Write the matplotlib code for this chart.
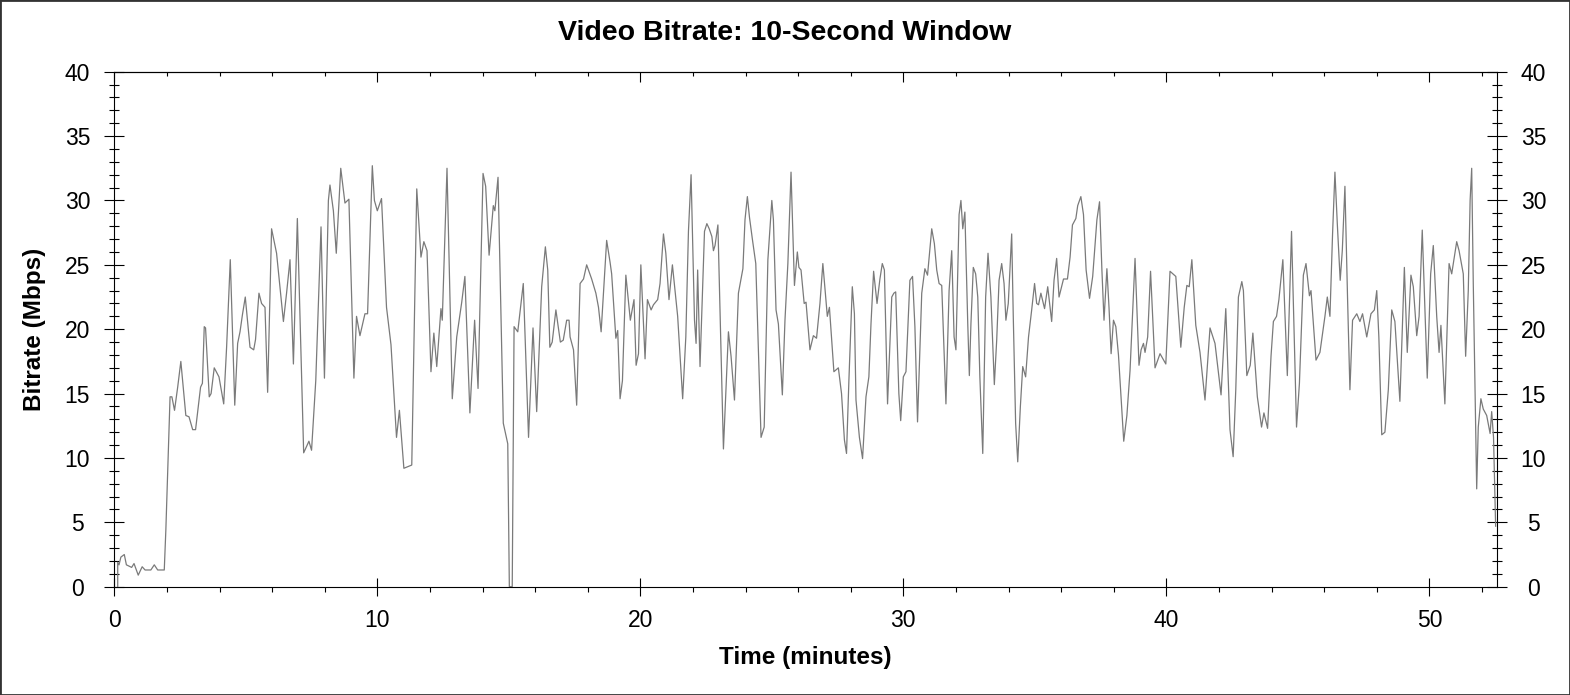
import matplotlib
matplotlib.use('Agg')
import matplotlib.pyplot as plt
from matplotlib.ticker import MultipleLocator
from matplotlib.patches import Rectangle

plt.rcParams['font.family'] = ['Liberation Sans', 'DejaVu Sans']

# 읽어낸 값: 시간(분), 비트레이트(Mbps)
time_min = [
    0.13, 0.13, 0.18, 0.25, 0.38, 0.46, 0.66, 0.75, 0.91, 1.06, 1.17, 1.39, 1.52, 1.65, 1.90, 1.96,
    2.12, 2.19, 2.29, 2.41, 2.53, 2.72, 2.84, 2.98, 3.09, 3.28, 3.35, 3.42, 3.47, 3.61, 3.68, 3.80,
    3.98, 4.16, 4.27, 4.41, 4.58, 4.69, 4.78, 4.87, 4.98, 5.16, 5.30, 5.37, 5.50, 5.60, 5.73, 5.83,
    5.98, 6.17, 6.43, 6.55, 6.68, 6.81, 6.96, 7.20, 7.40, 7.50, 7.66, 7.86, 7.99, 8.14, 8.20, 8.33,
    8.44, 8.61, 8.77, 8.92, 9.11, 9.21, 9.34, 9.53, 9.63, 9.81, 9.89, 10.0, 10.16, 10.35, 10.52,
    10.73, 10.84, 11.01, 11.31, 11.50, 11.66, 11.77, 11.89, 12.04, 12.15, 12.26, 12.42, 12.47, 12.65,
    12.85, 13.02, 13.21, 13.33, 13.52, 13.70, 13.83, 14.02, 14.12, 14.25, 14.41, 14.47, 14.59, 14.79,
    14.96, 15.02, 15.13, 15.20, 15.34, 15.55, 15.75, 15.92, 16.06, 16.25, 16.39, 16.48, 16.56, 16.65,
    16.79, 16.96, 17.07, 17.20, 17.29, 17.33, 17.46, 17.58, 17.71, 17.84, 17.96, 18.15, 18.31, 18.41,
    18.51, 18.72, 18.85, 18.91, 19.07, 19.14, 19.23, 19.32, 19.45, 19.62, 19.76, 19.84, 19.93, 20.02,
    20.18, 20.27, 20.41, 20.50, 20.66, 20.75, 20.88, 20.97, 21.09, 21.22, 21.32, 21.42, 21.61, 21.73,
    21.83, 21.93, 22.06, 22.12, 22.18, 22.27, 22.44, 22.53, 22.62, 22.72, 22.78, 22.84, 22.95, 23.16,
    23.35, 23.45, 23.58, 23.73, 23.90, 23.98, 24.07, 24.15, 24.26, 24.39, 24.59, 24.71, 24.85, 25.00,
    25.06, 25.16, 25.25, 25.40, 25.50, 25.61, 25.73, 25.86, 25.97, 26.03, 26.11, 26.23, 26.30, 26.45,
    26.58, 26.70, 26.83, 26.94, 27.11, 27.19, 27.36, 27.53, 27.65, 27.76, 27.84, 27.93, 28.06, 28.14,
    28.20, 28.33, 28.45, 28.58, 28.69, 28.77, 28.87, 29.00, 29.11, 29.20, 29.28, 29.40, 29.56, 29.64,
    29.71, 29.83, 29.90, 30.00, 30.10, 30.25, 30.35, 30.44, 30.54, 30.70, 30.82, 30.92, 31.08, 31.18,
    31.27, 31.36, 31.46, 31.62, 31.74, 31.84, 31.93, 32.00, 32.12, 32.19, 32.26, 32.34, 32.45, 32.51,
    32.57, 32.66, 32.75, 32.83, 32.91, 33.02, 33.13, 33.22, 33.33, 33.46, 33.55, 33.64, 33.74, 33.83,
    33.90, 33.99, 34.12, 34.18, 34.27, 34.35, 34.45, 34.54, 34.65, 34.76, 34.88, 34.99, 35.07, 35.14,
    35.23, 35.37, 35.49, 35.64, 35.73, 35.83, 35.92, 36.09, 36.24, 36.34, 36.43, 36.56, 36.63, 36.75,
    36.85, 36.95, 37.08, 37.20, 37.36, 37.46, 37.55, 37.63, 37.74, 37.82, 37.90, 37.99, 38.08, 38.18,
    38.38, 38.50, 38.62, 38.81, 38.96, 39.04, 39.13, 39.19, 39.29, 39.40, 39.57, 39.76, 39.98, 40.14,
    40.36, 40.55, 40.68, 40.78, 40.87, 40.97, 41.12, 41.28, 41.47, 41.66, 41.85, 42.08, 42.26, 42.42,
    42.54, 42.64, 42.74, 42.87, 42.93, 43.06, 43.19, 43.29, 43.46, 43.62, 43.71, 43.85, 43.98, 44.07,
    44.19, 44.28, 44.43, 44.60, 44.76, 44.95, 45.06, 45.21, 45.31, 45.44, 45.50, 45.69, 45.84, 46.03,
    46.12, 46.22, 46.32, 46.41, 46.50, 46.61, 46.69, 46.79, 46.89, 46.98, 47.08, 47.24, 47.36, 47.46,
    47.62, 47.78, 47.91, 48.00, 48.08, 48.19, 48.31, 48.44, 48.57, 48.69, 48.88, 49.05, 49.16, 49.30,
    49.39, 49.52, 49.61, 49.73, 49.92, 50.05, 50.15, 50.28, 50.37, 50.44, 50.59, 50.75, 50.85, 50.95,
    51.04, 51.13, 51.29, 51.38, 51.48, 51.55, 51.61, 51.67, 51.80, 51.86, 51.96, 52.05, 52.18, 52.31,
    52.37, 52.44, 52.52,
]
bitrate_mbps = [
    0.0, 1.9, 1.7, 2.3, 2.5, 1.7, 1.5, 1.8, 0.9, 1.55, 1.3, 1.3, 1.7, 1.3, 1.3, 4.4,
    14.75, 14.75, 13.7, 15.5, 17.5, 13.3, 13.2, 12.2, 12.2, 15.5, 15.8, 20.2, 20.1, 14.75, 15.0, 17.0,
    16.3, 14.2, 18.6, 25.4, 14.1, 18.9, 19.8, 21.1, 22.5, 18.6, 18.4, 19.2, 22.8, 22.0, 21.7, 15.1,
    27.8, 25.9, 20.6, 22.8, 25.4, 17.3, 28.6, 10.4, 11.3, 10.6, 16.0, 27.95, 16.2, 30.0, 31.2, 29.2,
    25.9, 32.5, 29.8, 30.1, 16.2, 21.0, 19.5, 21.2, 21.2, 32.7, 30.0, 29.2, 30.15, 21.7, 18.8,
    11.6, 13.7, 9.2, 9.45, 30.9, 25.6, 26.8, 26.1, 16.7, 19.7, 17.1, 21.6, 20.7, 32.5,
    14.6, 19.4, 22.1, 24.1, 13.5, 20.7, 15.4, 32.1, 31.1, 25.75, 29.6, 29.2, 31.8, 12.7,
    11.1, 0.0, 0.0, 20.2, 19.8, 23.55, 11.6, 20.1, 13.6, 23.3, 26.4, 24.6, 18.6, 19.0,
    21.5, 19.0, 19.15, 20.7, 20.7, 19.4, 18.4, 14.1, 23.55, 23.9, 25.0, 23.9, 22.8, 21.7,
    19.8, 26.9, 25.2, 24.3, 19.3, 19.9, 14.6, 16.0, 24.2, 20.7, 22.3, 17.2, 18.1, 25.0,
    17.7, 22.3, 21.5, 21.9, 22.3, 23.55, 27.4, 25.9, 22.3, 25.0, 23.0, 21.0, 14.6, 19.4,
    27.6, 32.0, 20.7, 18.9, 24.6, 17.1, 27.6, 28.2, 27.8, 27.2, 26.1, 26.5, 28.1, 10.7,
    19.8, 17.9, 14.5, 22.8, 24.7, 28.5, 30.3, 28.7, 27.0, 25.1, 11.6, 12.4, 25.4, 30.0,
    28.5, 21.5, 20.4, 14.9, 20.7, 25.1, 32.2, 23.4, 26.0, 24.8, 24.6, 22.0, 22.1, 18.4,
    19.5, 19.3, 22.0, 25.1, 21.0, 21.7, 16.7, 17.0, 15.0, 11.4, 10.35, 16.0, 23.3, 21.2,
    14.5, 11.6, 9.95, 14.75, 16.3, 20.4, 24.5, 22.0, 23.9, 25.1, 24.6, 14.2, 22.5, 22.8,
    22.9, 15.0, 12.9, 16.3, 16.7, 23.8, 24.1, 20.2, 12.8, 22.8, 24.7, 24.2, 27.8, 26.65,
    24.6, 23.55, 23.4, 14.2, 23.0, 26.1, 19.4, 18.4, 28.9, 30.0, 27.8, 29.1, 20.4, 16.4,
    20.4, 24.8, 24.3, 22.5, 16.3, 10.35, 22.5, 25.9, 22.5, 15.7, 19.15, 23.8, 25.1, 23.55,
    20.7, 22.0, 27.4, 21.0, 12.7, 9.7, 14.0, 17.1, 16.3, 19.4, 21.5, 23.55, 22.0, 21.9,
    22.8, 21.6, 23.3, 20.6, 23.8, 25.5, 22.5, 23.9, 23.9, 25.6, 28.1, 28.6, 29.6, 30.3,
    28.9, 24.6, 22.4, 24.1, 28.5, 29.9, 24.6, 20.7, 24.7, 21.7, 18.1, 20.7, 20.2, 18.0,
    11.3, 13.3, 16.8, 25.5, 17.2, 18.4, 18.9, 18.2, 19.4, 24.5, 17.0, 18.1, 17.3, 24.5,
    24.1, 18.6, 21.7, 23.4, 23.3, 25.4, 20.3, 18.2, 14.5, 20.1, 18.9, 14.9, 21.6, 12.2,
    10.1, 15.3, 22.5, 23.7, 23.0, 16.4, 17.2, 19.7, 14.75, 12.4, 13.5, 12.3, 17.9, 20.6,
    21.0, 22.3, 25.4, 16.4, 27.6, 12.4, 15.8, 24.2, 25.1, 22.6, 23.0, 17.6, 18.2, 21.0,
    22.5, 21.0, 27.4, 32.2, 28.2, 23.8, 26.1, 31.1, 22.4, 15.3, 20.7, 21.2, 20.6, 21.2,
    19.4, 21.2, 21.5, 23.0, 19.4, 11.8, 12.0, 15.3, 21.5, 20.6, 14.4, 24.8, 18.2, 24.2,
    23.3, 19.5, 21.0, 27.7, 16.2, 24.3, 26.5, 21.0, 18.2, 20.3, 14.2, 25.1, 24.3, 25.6,
    26.8, 26.1, 24.3, 17.9, 23.0, 30.0, 32.5, 23.55, 7.6, 12.4, 14.6, 13.8, 13.3, 11.9,
    13.6, 11.6, 4.7,
]

fig = plt.figure(figsize=(15.7, 6.95), dpi=100)
ax = fig.add_axes([0.0728, 0.1558, 0.8805, 0.741])

ax.plot(time_min, bitrate_mbps, color='#7a7a7a', linewidth=0.9)

ax.set_xlim(0, 52.56)
ax.set_ylim(0, 40)

ax.xaxis.set_major_locator(MultipleLocator(10))
ax.xaxis.set_minor_locator(MultipleLocator(2))
ax.yaxis.set_major_locator(MultipleLocator(5))
ax.yaxis.set_minor_locator(MultipleLocator(1))

for s in ax.spines.values():
    s.set_linewidth(0.8)

# 아래쪽 x축 눈금
ax.tick_params(axis='x', which='major', direction='inout', length=13.5, width=0.8,
               top=False, labelsize=16.5, pad=9.5)
ax.tick_params(axis='x', which='minor', direction='out', length=3.5, width=0.8, top=False)
# 좌우 y축 눈금 (라벨은 가운데 정렬)
ax.tick_params(axis='y', which='major', direction='inout', length=14, width=0.8,
               left=True, right=True, labelleft=True, labelright=True, labelsize=16.5, pad=19.5)
ax.tick_params(axis='y', which='minor', direction='inout', length=6.5, width=0.8,
               left=True, right=True)
for t in ax.yaxis.get_major_ticks():
    t.label1.set_horizontalalignment('center')
    t.label2.set_horizontalalignment('center')

# 위쪽 x축은 안쪽 눈금만
top = ax.secondary_xaxis('top')
top.xaxis.set_major_locator(MultipleLocator(10))
top.xaxis.set_minor_locator(MultipleLocator(2))
top.tick_params(axis='x', which='major', direction='in', length=7, width=0.8, labeltop=False)
top.tick_params(axis='x', which='minor', direction='in', length=3, width=0.8)
top.spines['top'].set_linewidth(0.8)

ax.set_xlabel('Time (minutes)', fontsize=17.5, fontweight='bold', va='center')
ax.xaxis.set_label_coords(0.5, -0.137)
ax.set_ylabel('Bitrate (Mbps)', fontsize=17.5, fontweight='bold', va='center')
ax.yaxis.set_label_coords(-0.058, 0.5)

fig.suptitle('Video Bitrate: 10-Second Window', x=0.5, y=0.9525, va='center',
             fontsize=20.5, fontweight='bold')

fig.patches.append(Rectangle((0, 0), 1, 1, transform=fig.transFigure, fill=False,
                             edgecolor='#333333', linewidth=2))

fig.savefig('out.png', dpi=100)
